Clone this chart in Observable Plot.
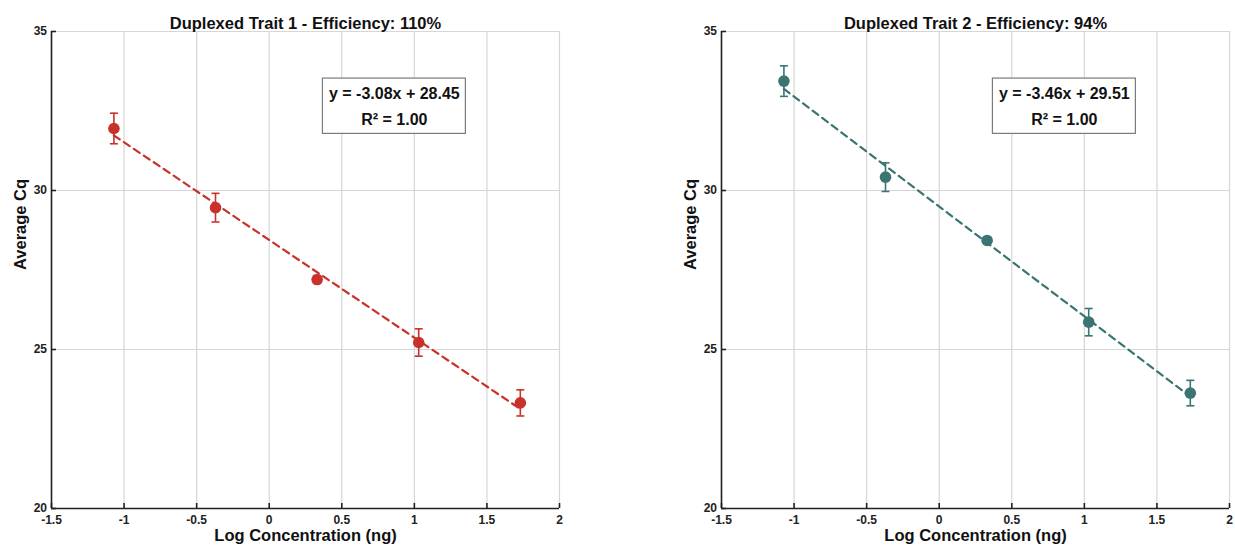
<!DOCTYPE html>
<html>
<head>
<meta charset="utf-8">
<script src="https://cdn.jsdelivr.net/npm/d3@7"></script>
<script src="https://cdn.jsdelivr.net/npm/@observablehq/plot@0.6"></script>
<style>
  html, body { margin: 0; padding: 0; background: #fff; }
  #wrap { display: flex; width: 1235px; height: 550px; overflow: hidden; }
  #wrap svg { display: block; flex: none; }
</style>
</head>
<body>
<div id="wrap"></div>
<script>
// ---- data ----
const logConc = [-1.07, -0.37, 0.33, 1.03, 1.73];
const trait1Cq = [31.95, 29.46, 27.2, 25.22, 23.32];
const trait1Err = [0.48, 0.45, 0.12, 0.43, 0.41];
const trait2Cq = [33.44, 30.42, 28.43, 25.86, 23.63];
const trait2Err = [0.48, 0.45, 0.1, 0.43, 0.4];
const titles = ["Duplexed Trait 1 - Efficiency: 110%", "Duplexed Trait 2 - Efficiency: 94%"];
const equations = ["y = -3.08x + 28.45", "y = -3.46x + 29.51"];
const rSquared = ["R² = 1.00", "R² = 1.00"];
const xTicks = [-1.5, -1, -0.5, 0, 0.5, 1, 1.5, 2];
const xTickLabels = ["-1.5", "-1", "-0.5", "0", "0.5", "1", "1.5", "2"];
const yTicks = [20, 25, 30, 35];
const yTickLabels = ["20", "25", "30", "35"];
const xLabel = "Log Concentration (ng)";
const yLabel = "Average Cq";
const colors = ["#c8322a", "#3a7473"];

// annotation box placement (data coordinates)
const eqBox = {x1: 0.37, x2: 1.355, y1: 31.78, y2: 33.52, cx: 0.862, yLine1: 33.04, yLine2: 32.22};

const font = "'Liberation Sans', Arial, Helvetica, sans-serif";
const capSymbol = {draw(ctx) { ctx.moveTo(-4, 0); ctx.lineTo(4, 0); }};
const fmtX = d => xTickLabels[xTicks.indexOf(d)];
const fmtY = d => yTickLabels[yTicks.indexOf(d)];

function panel(i, cq, err, width, ml, mr) {
  const data = logConc.map((x, j) => ({x, y: cq[j], lo: cq[j] - err[j], hi: cq[j] + err[j]}));
  const c = colors[i];
  return Plot.plot({
    width, height: 550,
    marginLeft: ml, marginRight: mr, marginTop: 31, marginBottom: 42,
    style: {fontFamily: font, background: "white", overflow: "visible"},
    x: {domain: [-1.5, 2]},
    y: {domain: [20, 35]},
    marks: [
      Plot.gridX(xTicks, {stroke: "#d6d6d6", strokeOpacity: 1, strokeWidth: 1.2}),
      Plot.gridY(yTicks, {stroke: "#d6d6d6", strokeOpacity: 1, strokeWidth: 1.2}),
      Plot.rect([eqBox], {x1: "x1", x2: "x2", y1: "y1", y2: "y2", fill: "white", stroke: "#7a7a7a", strokeWidth: 1.2}),
      Plot.text([equations[i]], {x: () => eqBox.cx, y: () => eqBox.yLine1, fontSize: 16, fontWeight: "bold", fill: "#111"}),
      Plot.text([rSquared[i]], {x: () => eqBox.cx, y: () => eqBox.yLine2, fontSize: 16, fontWeight: "bold", fill: "#111"}),
      Plot.linearRegressionY(data, {x: "x", y: "y", stroke: c, strokeWidth: 2.2, strokeDasharray: "7,5", ci: 0}),
      Plot.ruleX(data, {x: "x", y1: "lo", y2: "hi", stroke: c, strokeWidth: 1.6}),
      Plot.dot(data, {x: "x", y: "lo", symbol: capSymbol, stroke: c, fill: "none", strokeWidth: 1.6}),
      Plot.dot(data, {x: "x", y: "hi", symbol: capSymbol, stroke: c, fill: "none", strokeWidth: 1.6}),
      Plot.dot(data, {x: "x", y: "y", r: 5.8, fill: c, stroke: "none"}),
      Plot.ruleX([-1.5], {stroke: "#222", strokeWidth: 1.6}),
      Plot.ruleY([20], {stroke: "#222", strokeWidth: 1.6}),
      Plot.axisX(xTicks, {tickSize: -5, tickPadding: 12, tickFormat: fmtX, fontSize: 12, fontWeight: "bold", stroke: "#222", strokeWidth: 1.6, fill: "#222", label: null}),
      Plot.axisY(yTicks, {tickSize: -5, tickPadding: 9.5, tickFormat: fmtY, fontSize: 12, fontWeight: "bold", stroke: "#222", strokeWidth: 1.6, fill: "#222", label: null}),
      Plot.text([titles[i]], {frameAnchor: "top", dy: -14, fontSize: 16.5, fontWeight: "bold", fill: "#111"}),
      Plot.text([xLabel], {frameAnchor: "bottom", dy: 32, fontSize: 16.5, fontWeight: "bold", fill: "#111"}),
      Plot.text([yLabel], {frameAnchor: "left", dx: -31, rotate: -90, fontSize: 16.5, fontWeight: "bold", fill: "#111"})
    ]
  });
}

const wrap = document.getElementById("wrap");
wrap.appendChild(panel(0, trait1Cq, trait1Err, 617, 51, 58));
wrap.appendChild(panel(1, trait2Cq, trait2Err, 618, 104, 6));
</script>
</body>
</html>
